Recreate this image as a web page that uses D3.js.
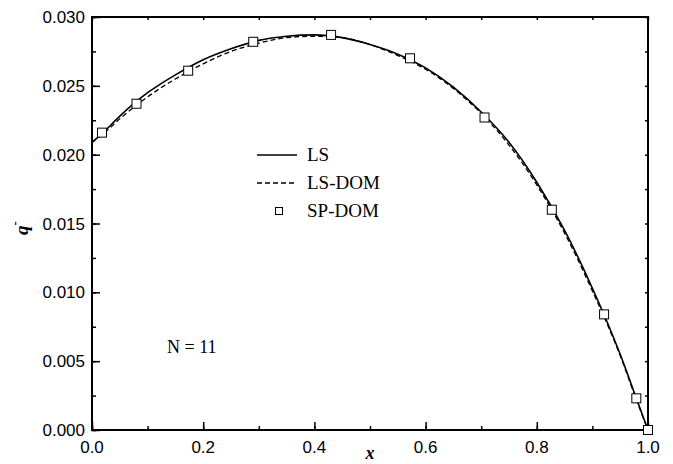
<!DOCTYPE html>
<html>
<head>
<meta charset="utf-8">
<script src="https://cdn.jsdelivr.net/npm/d3@7"></script>
<style>
body { margin: 0; background: #fff; }
</style>
</head>
<body>
<div id="chart-area"></div>
<script>
// values
const lsX = [0, 0.02, 0.05, 0.1, 0.15, 0.2, 0.25, 0.3, 0.35, 0.4, 0.45, 0.5, 0.55, 0.6, 0.65, 0.7, 0.75, 0.8, 0.85, 0.9, 0.95, 0.98, 1.0]
const lsY = [0.0209, 0.0216, 0.0228, 0.0245, 0.0258, 0.0269, 0.0277, 0.0283, 0.0286, 0.0287, 0.0285, 0.0280, 0.0273, 0.0263, 0.0249, 0.0231, 0.0209, 0.0180, 0.0145, 0.0103, 0.0055, 0.0022, 0.0]
const domY = [0.0209, 0.0215, 0.0226, 0.0242, 0.0255, 0.0266, 0.0275, 0.0281, 0.0285, 0.0286, 0.0285, 0.0280, 0.0272, 0.0262, 0.0248, 0.0230, 0.0207, 0.0178, 0.0143, 0.0101, 0.0054, 0.0021, 0.0]
const spX = [0.018, 0.080, 0.173, 0.290, 0.430, 0.572, 0.706, 0.827, 0.921, 0.979, 1.0]
const spY = [0.0216, 0.0237, 0.0261, 0.0282, 0.0287, 0.0270, 0.0227, 0.0160, 0.0084, 0.0023, 0.0]
const xTicks = [0, 0.2, 0.4, 0.6, 0.8, 1.0]
const yTicks = [0, 0.005, 0.010, 0.015, 0.020, 0.025, 0.030]
const legendNames = ['LS', 'LS-DOM', 'SP-DOM']

const MARGIN = { LEFT: 92, RIGHT: 25, TOP: 17, BOTTOM: 34 }
const W = 673, H = 464
const WIDTH = W - MARGIN.LEFT - MARGIN.RIGHT
const HEIGHT = H - MARGIN.TOP - MARGIN.BOTTOM

const svg = d3.select('#chart-area')
.append('svg')
.attr('width', W)
.attr('height', H)

const g = svg.append('g')
.attr('transform', `translate(${MARGIN.LEFT},${MARGIN.TOP})`)

const x = d3.scaleLinear().domain([0, 1]).range([0, WIDTH])
const y = d3.scaleLinear().domain([0, 0.03]).range([HEIGHT, 0])

const sans = '"Liberation Sans", Arial, sans-serif'
const serif = '"Liberation Serif", "Times New Roman", serif'

const xMinor = d3.range(0, 1.0001, 0.1)
const yMinor = d3.range(0, 0.03001, 0.0025)

// inward ticks on all four sides
function ticks(axis, vals, size) {
	return axis.tickValues(vals).tickSizeInner(-size).tickSizeOuter(0).tickFormat('')
}
const addAxis = (call, tr) => {
	const a = g.append('g').attr('transform', tr).call(call)
	a.select('.domain').remove()
	a.selectAll('line').attr('stroke', '#000').attr('stroke-width', 1.5)
	return a
}
addAxis(ticks(d3.axisBottom(x), xMinor, 4), `translate(0,${HEIGHT})`)
addAxis(ticks(d3.axisBottom(x), xTicks, 8), `translate(0,${HEIGHT})`)
addAxis(ticks(d3.axisLeft(y), yMinor, 4), 'translate(0,0)')
addAxis(ticks(d3.axisLeft(y), yTicks, 8), 'translate(0,0)')
addAxis(ticks(d3.axisTop(x), xMinor, 3), 'translate(0,0)')
addAxis(ticks(d3.axisRight(y), yMinor, 3), `translate(${WIDTH},0)`)

g.append('rect')
.attr('width', WIDTH)
.attr('height', HEIGHT)
.attr('fill', 'none')
.attr('stroke', '#000')
.attr('stroke-width', 2)

// tick labels
g.selectAll('.xl').data(xTicks).enter().append('text')
.attr('x', d => x(d))
.attr('y', HEIGHT + 23)
.attr('text-anchor', 'middle')
.style('font-family', sans)
.style('font-size', '17px')
.text(d3.format('.1f'))

g.selectAll('.yl').data(yTicks).enter().append('text')
.attr('x', -7)
.attr('y', d => y(d) + 6)
.attr('text-anchor', 'end')
.style('font-family', sans)
.style('font-size', '17px')
.text(d3.format('.3f'))

// axis titles
svg.append('text')
.attr('x', 370)
.attr('y', 459)
.attr('text-anchor', 'middle')
.style('font-family', serif)
.style('font-style', 'italic')
.style('font-weight', 'bold')
.style('font-size', '18px')
.text('x')

const yt = svg.append('text')
.attr('transform', 'translate(28,228) rotate(-90)')
.attr('text-anchor', 'middle')
.style('font-family', serif)
.style('font-style', 'italic')
.style('font-weight', 'bold')
.style('font-size', '19px')
yt.append('tspan').text('q')
yt.append('tspan').attr('dy', -9).style('font-size', '13px').text('-')

// curves
const line = d3.line().x(d => x(d[0])).y(d => y(d[1])).curve(d3.curveMonotoneX)

g.append('path')
.datum(lsX.map((v, i) => [v, domY[i]]))
.attr('d', line)
.attr('fill', 'none')
.attr('stroke', '#000')
.attr('stroke-width', 1.3)
.attr('stroke-dasharray', '5,3')

g.append('path')
.datum(lsX.map((v, i) => [v, lsY[i]]))
.attr('d', line)
.attr('fill', 'none')
.attr('stroke', '#000')
.attr('stroke-width', 1.6)

g.selectAll('.sp').data(spX).enter().append('rect')
.attr('x', d => x(d) - 4.5)
.attr('y', (d, i) => y(spY[i]) - 4.5)
.attr('width', 9)
.attr('height', 9)
.attr('fill', '#fff')
.attr('stroke', '#000')
.attr('stroke-width', 1)

// legend
const legend = svg.append('g')
legendNames.forEach((name, i) => {
	const row = legend.append('g').attr('transform', `translate(257,${155 + i * 28})`)
	if (i < 2) {
		row.append('line')
		.attr('x1', 0).attr('x2', 40)
		.attr('stroke', '#000')
		.attr('stroke-width', i === 0 ? 1.6 : 1.3)
		.attr('stroke-dasharray', i === 0 ? null : '5,3')
	} else {
		row.append('rect')
		.attr('x', 18.5).attr('y', -3.5)
		.attr('width', 7).attr('height', 7)
		.attr('fill', '#fff').attr('stroke', '#000')
	}
	row.append('text')
	.attr('x', 50)
	.attr('y', 6)
	.style('font-family', serif)
	.style('font-size', '19px')
	.text(name)
})

svg.append('text')
.attr('x', 167)
.attr('y', 353)
.style('font-family', serif)
.style('font-size', '18px')
.text('N = 11')
</script>
</body>
</html>
